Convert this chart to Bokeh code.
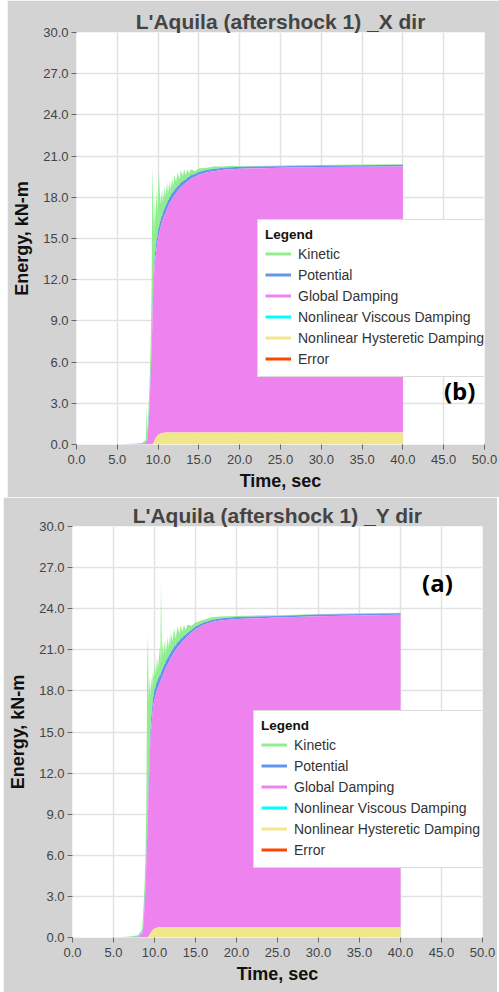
import numpy as np
from bokeh.plotting import figure
from bokeh.models import (FixedTicker, PrintfTickFormatter, Legend, LegendItem,
                          Label, Range1d, ColumnDataSource)
from bokeh.layouts import column
from bokeh.embed import file_html
from bokeh.resources import INLINE

# ---------------- data: X direction (top panel) ----------------
time_x = [0.0, 5.0, 6.0, 7.0, 8.0,
          8.5, 8.6, 8.7, 8.8, 8.9, 9.0, 9.1, 9.2, 9.3, 9.4, 9.5, 9.6, 9.7, 9.8, 9.9,
          10.0, 10.1, 10.2, 10.3, 10.4, 10.5, 10.6, 10.7, 10.8, 10.9,
          11.0, 11.1, 11.2, 11.3, 11.4, 11.5, 11.6, 11.7, 11.8, 11.9,
          12.0, 12.2, 12.4, 12.6, 12.8, 13.0, 13.2, 13.4, 13.6, 13.8, 14.0,
          14.5, 15.0, 16.0, 17.0, 18.0, 19.0, 20.0, 25.0, 30.0, 35.0, 40.0]
hyst_x = [0, 0, 0, 0, 0,
          0, 0, 0, 0, 0, 0, 0, 0, 0.02, 0.1, 0.2, 0.35, 0.45, 0.55, 0.62,
          0.7, 0.74, 0.77, 0.8, 0.82, 0.84, 0.85, 0.86, 0.86, 0.87,
          0.87, 0.87, 0.87, 0.87, 0.87, 0.87, 0.87, 0.87, 0.87, 0.87,
          0.88, 0.88, 0.88, 0.88, 0.88, 0.88, 0.88, 0.88, 0.88, 0.88, 0.88,
          0.88, 0.88, 0.88, 0.88, 0.88, 0.88, 0.88, 0.88, 0.88, 0.88, 0.88]
glob_x = [0, 0, 0.01, 0.01, 0.03,
          0.08, 0.15, 0.4, 1.2, 2.2, 3.5, 5.0, 6.8, 8.78, 11.2, 12.2, 12.85, 13.25, 13.65, 13.98,
          14.3, 14.56, 14.78, 15.0, 15.18, 15.36, 15.55, 15.69, 15.84, 15.98,
          16.13, 16.28, 16.43, 16.55, 16.67, 16.78, 16.88, 16.98, 17.08, 17.18,
          17.27, 17.42, 17.57, 17.72, 17.87, 17.97, 18.07, 18.17, 18.27, 18.37, 18.47,
          18.62, 18.77, 18.94, 19.04, 19.12, 19.17, 19.2, 19.27, 19.32, 19.34, 19.37]
pot_x = [0, 0, 0.01, 0.02, 0.03,
         0.05, 0.1, 0.2, 0.3, 0.4, 0.5, 0.5, 0.6, 0.6, 0.7, 0.5, 0.7, 0.5, 0.7, 0.5,
         0.65, 0.5, 0.6, 0.5, 0.6, 0.45, 0.55, 0.45, 0.55, 0.45,
         0.5, 0.45, 0.5, 0.4, 0.5, 0.4, 0.45, 0.4, 0.45, 0.35,
         0.4, 0.35, 0.4, 0.3, 0.35, 0.3, 0.3, 0.25, 0.3, 0.25, 0.25,
         0.2, 0.2, 0.18, 0.15, 0.15, 0.14, 0.14, 0.12, 0.12, 0.12, 0.12]
kin_x = [0, 0, 0.01, 0.03, 0.05,
         0.2, 2.4, 0.3, 0.8, 1.0, 1.5, 2.0, 4.0, 11.0, 5.4, 2.5, 4.1, 2.0, 3.7, 1.8,
         2.9, 4.0, 2.3, 1.2, 1.9, 0.9, 1.6, 0.8, 1.6, 0.7,
         1.5, 0.6, 1.3, 0.5, 1.2, 0.4, 1.1, 0.5, 1.0, 0.4,
         1.1, 0.5, 1.0, 0.4, 0.9, 0.4, 0.8, 0.3, 0.6, 0.25, 0.45,
         0.2, 0.25, 0.15, 0.2, 0.1, 0.1, 0.05, 0.05, 0.04, 0.04, 0.03]

# ---------------- data: Y direction (bottom panel) ----------------
time_y = [0.0, 5.0, 6.0, 7.0, 8.0,
          8.5, 8.6, 8.7, 8.8, 8.9, 9.0, 9.1, 9.2, 9.3, 9.4, 9.5, 9.6, 9.7, 9.8, 9.9,
          10.0, 10.1, 10.2, 10.3, 10.4, 10.5, 10.6, 10.7, 10.8, 10.9,
          11.0, 11.1, 11.2, 11.3, 11.4, 11.5, 11.6, 11.7, 11.8, 11.9,
          12.0, 12.2, 12.4, 12.6, 12.8, 13.0, 13.2, 13.4, 13.6, 13.8, 14.0,
          14.5, 15.0, 16.0, 17.0, 18.0, 19.0, 20.0, 25.0, 30.0, 35.0, 40.0]
hyst_y = [0, 0, 0, 0, 0,
          0, 0, 0, 0, 0, 0, 0, 0.05, 0.12, 0.2, 0.3, 0.4, 0.48, 0.55, 0.6,
          0.65, 0.68, 0.7, 0.72, 0.73, 0.74, 0.75, 0.75, 0.76, 0.76,
          0.76, 0.76, 0.76, 0.76, 0.76, 0.76, 0.76, 0.76, 0.76, 0.76,
          0.77, 0.77, 0.77, 0.77, 0.77, 0.77, 0.77, 0.77, 0.77, 0.77, 0.77,
          0.77, 0.77, 0.77, 0.77, 0.77, 0.77, 0.77, 0.77, 0.77, 0.77, 0.77]
glob_y = [0, 0, 0.01, 0.02, 0.05,
          0.2, 0.6, 1.4, 2.4, 3.6, 5.2, 7.2, 8.95, 10.88, 12.8, 14.1, 14.9, 15.52, 16.05, 16.5,
          16.75, 16.92, 17.15, 17.33, 17.47, 17.61, 17.75, 17.9, 18.04, 18.19,
          18.34, 18.49, 18.64, 18.79, 18.92, 19.04, 19.16, 19.28, 19.4, 19.52,
          19.63, 19.83, 20.03, 20.21, 20.38, 20.53, 20.68, 20.83, 20.95, 21.08, 21.2,
          21.48, 21.73, 22.05, 22.26, 22.36, 22.43, 22.48, 22.58, 22.68, 22.73, 22.78]
pot_y = [0, 0, 0.01, 0.02, 0.03,
         0.1, 0.2, 0.3, 0.4, 0.5, 0.6, 0.6, 0.7, 0.7, 0.8, 0.6, 0.8, 0.6, 0.8, 0.6,
         0.75, 0.6, 0.7, 0.55, 0.7, 0.55, 0.65, 0.5, 0.6, 0.5,
         0.6, 0.5, 0.55, 0.45, 0.55, 0.45, 0.5, 0.45, 0.5, 0.4,
         0.45, 0.4, 0.45, 0.35, 0.4, 0.35, 0.35, 0.3, 0.3, 0.25, 0.25,
         0.2, 0.2, 0.18, 0.15, 0.15, 0.14, 0.14, 0.12, 0.12, 0.12, 0.12]
kin_y = [0, 0, 0.01, 0.03, 0.08,
         0.3, 0.8, 1.0, 1.2, 2.0, 3.5, 11.0, 12.7, 5.5, 5.2, 2.6, 3.0, 1.6, 2.0, 1.2,
         1.8, 0.9, 1.8, 0.8, 1.5, 0.8, 2.2, 0.9, 6.6, 0.9,
         2.0, 0.8, 1.8, 0.7, 1.5, 0.6, 1.6, 0.6, 1.3, 0.6,
         1.4, 0.6, 1.3, 0.5, 1.2, 0.5, 1.0, 0.4, 0.8, 0.35, 0.6,
         0.3, 0.3, 0.2, 0.2, 0.15, 0.1, 0.08, 0.06, 0.05, 0.05, 0.04]

legend_labels = ["Kinetic", "Potential", "Global Damping",
                 "Nonlinear Viscous Damping", "Nonlinear Hysteretic Damping", "Error"]
legend_colors = ["#90EE90", "#6495ED", "#EE82EE", "#00FFFF", "#F0E68C", "#FF4500"]
x_ticks = [0, 5, 10, 15, 20, 25, 30, 35, 40, 45, 50]
y_ticks = [0, 3, 6, 9, 12, 15, 18, 21, 24, 27, 30]

FONT = "Liberation Sans"
BG = "#d3d3d3"


def make_panel(title, t, hyst, glob, pot, kin, tag, tag_xy, width, height,
               borders, margin, legend_loc):
    left, right, top, bottom = borders
    p = figure(width=width, height=height, x_range=Range1d(0, 50), y_range=Range1d(0, 30),
               output_backend="svg", toolbar_location=None,
               min_border_left=left, min_border_right=right,
               min_border_top=top, min_border_bottom=bottom,
               border_fill_color=BG, background_fill_color="white",
               outline_line_color=None, margin=margin)
    p.title.text = title
    p.title.align = "center"
    p.title.text_font = FONT
    p.title.text_font_size = "21px"
    p.title.text_font_style = "bold"
    p.title.text_color = "#444444"
    p.title.standoff = 0

    t = np.array(t)
    s1 = np.array(hyst)
    s2 = s1 + np.array(glob)
    s3 = s2 + np.array(pot)
    s4 = s3 + np.array(kin)
    src = ColumnDataSource(dict(t=t, z=np.zeros_like(t), s1=s1, s2=s2, s3=s3, s4=s4))
    p.varea(x="t", y1="s3", y2="s4", source=src, fill_color=legend_colors[0])
    p.varea(x="t", y1="s2", y2="s3", source=src, fill_color=legend_colors[1])
    p.varea(x="t", y1="s1", y2="s2", source=src, fill_color=legend_colors[2])
    p.varea(x="t", y1="z", y2="s1", source=src, fill_color=legend_colors[4])

    items = []
    for lab, col in zip(legend_labels, legend_colors):
        r = p.line(x=[np.nan], y=[np.nan], line_color=col, line_width=3)
        items.append(LegendItem(label=lab, renderers=[r]))
    leg = Legend(items=items, location=legend_loc, title="Legend",
                 title_text_font=FONT, title_text_font_size="13.5px",
                 title_text_font_style="bold", title_text_color="#111111",
                 title_standoff=1,
                 label_text_font=FONT, label_text_font_size="14px",
                 label_text_color="#333333",
                 glyph_width=26, glyph_height=21, label_height=21, spacing=0,
                 label_standoff=7, padding=7, margin=0,
                 border_line_color="#b8b8b8", border_line_width=1,
                 background_fill_color="white", background_fill_alpha=1.0)
    p.add_layout(leg)

    p.xaxis.ticker = FixedTicker(ticks=x_ticks)
    p.yaxis.ticker = FixedTicker(ticks=y_ticks)
    p.xaxis.formatter = PrintfTickFormatter(format="%.1f")
    p.yaxis.formatter = PrintfTickFormatter(format="%.1f")
    for ax in (p.xaxis, p.yaxis):
        ax.axis_line_color = None
        ax.major_tick_line_color = "#666666"
        ax.major_tick_out = 5
        ax.major_tick_in = 0
        ax.minor_tick_line_color = None
        ax.major_label_text_font = FONT
        ax.major_label_text_font_size = "13px"
        ax.major_label_text_color = "#444444"
        ax.axis_label_text_font = FONT
        ax.axis_label_text_font_size = "18px"
        ax.axis_label_text_font_style = "bold"
        ax.axis_label_text_color = "#111111"
    p.xaxis.axis_label = "Time, sec"
    p.yaxis.axis_label = "Energy, kN-m"
    p.xaxis.major_label_standoff = 5
    p.yaxis.major_label_standoff = 3
    p.xaxis.axis_label_standoff = 4
    p.yaxis.axis_label_standoff = 8
    p.grid.grid_line_color = "#e2e2e2"
    p.grid.grid_line_width = 1.5

    p.add_layout(Label(x=tag_xy[0], y=tag_xy[1], text=tag, text_align="center",
                       text_baseline="middle", text_font="Open Sans",
                       text_font_size="24px", text_font_style="bold",
                       text_color="black"))
    return p


p1 = make_panel("L'Aquila (aftershock 1) _X dir", time_x, hyst_x, glob_x, pot_x, kin_x,
                "(b)", (46.95, 3.9), 492, 497, (69, 13, 32, 53), (0, 0, 0, 7), (181, 67))
p2 = make_panel("L'Aquila (aftershock 1) _Y dir", time_y, hyst_y, glob_y, pot_y, kin_y,
                "(a)", (44.5, 25.9), 494, 495, (69, 15, 29, 55), (0, 2, 0, 3), (181, 69))

layout = column(p1, p2, spacing=0)
open("out.html", "w").write(file_html(layout, INLINE))
